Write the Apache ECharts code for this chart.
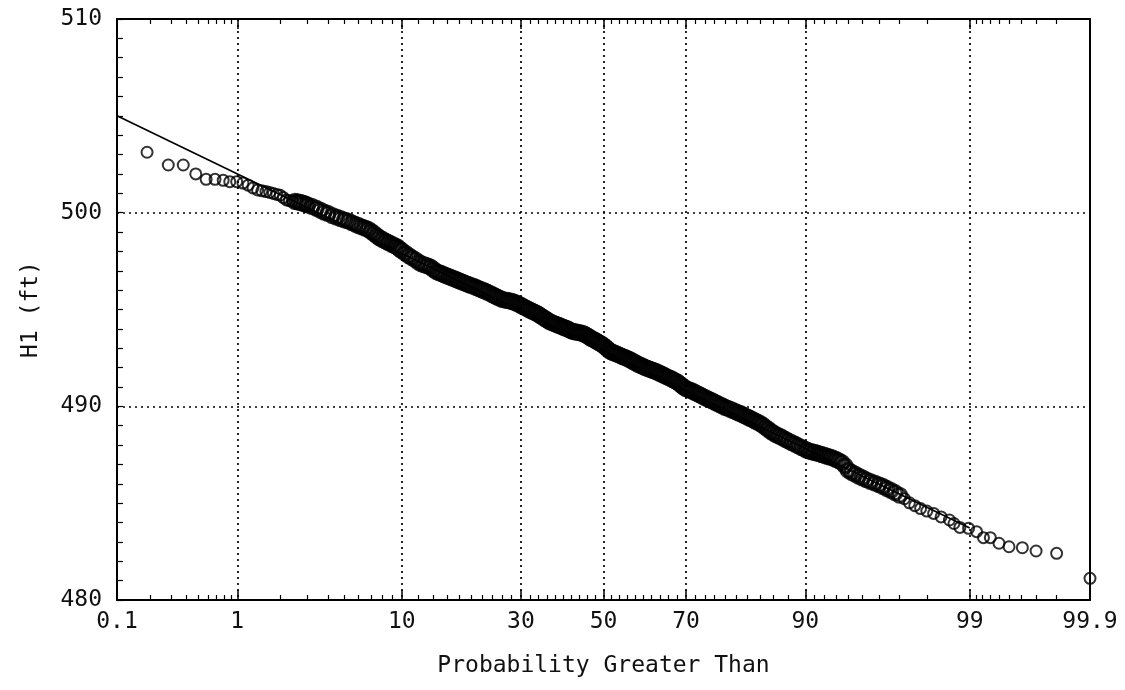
<!DOCTYPE html>
<html><head><meta charset="utf-8">
<script src="https://cdn.jsdelivr.net/npm/echarts@6/dist/echarts.min.js"></script>
<style>html,body{margin:0;padding:0;background:#fff}#c{width:1125px;height:690px}</style>
</head><body><div id="c"></div>
<script>
const probPct = [
  0.187,0.285,0.38,0.48,0.58,0.68,0.785,0.88,0.99,
  1.1,1.2,1.3,1.4,1.5,1.6,1.7,1.8,1.9,2.0,
  2.1,2.2,2.3,2.4,2.5,2.6,2.7,2.8,2.9,3.0,
  3.2,3.4,3.6,3.8,4.0,
  4.25,4.5,4.75,5.0,5.25,5.5,5.75,6.0,6.25,6.5,6.75,7.0,7.25,7.5,7.75,8.0,8.25,8.5,8.75,9.0,9.25,9.5,9.75,10.0,
  10.4,10.8,11.2,11.6,12.0,12.4,12.8,13.2,13.6,14.0,14.4,14.8,15.2,15.6,16.0,16.4,16.8,17.2,17.6,18.0,18.4,18.8,19.2,19.6,20.0,
  20.5,21,21.5,22,22.5,23,23.5,24,24.5,25,25.5,26,26.5,27,27.5,28,28.5,29,29.5,30,
  30.5,31,31.5,32,32.5,33,33.5,34,34.5,35,35.5,36,36.5,37,37.5,38,38.5,39,39.5,40,
  40.5,41,41.5,42,42.5,43,43.5,44,44.5,45,45.5,46,46.5,47,47.5,48,48.5,49,49.5,50,
  50.5,51,51.5,52,52.5,53,53.5,54,54.5,55,55.5,56,56.5,57,57.5,58,58.5,59,59.5,60,
  60.5,61,61.5,62,62.5,63,63.5,64,64.5,65,65.5,66,66.5,67,67.5,68,68.5,69,69.5,70,
  70.5,71,71.5,72,72.5,73,73.5,74,74.5,75,75.5,76,76.5,77,77.5,78,78.5,79,79.5,80,
  80.4,80.8,81.2,81.6,82.0,82.4,82.8,83.2,83.6,84.0,84.4,84.8,85.2,85.6,86.0,86.4,86.8,87.2,87.6,88.0,88.4,88.8,89.2,89.6,90.0,
  90.25,90.5,90.75,91,91.25,91.5,91.75,92,92.25,92.5,92.75,93,93.25,93.5,93.75,94,94.25,94.5,94.75,95,95.25,95.5,95.75,96,
  96.2,96.4,96.6,96.8,97.0,97.2,97.4,97.6,97.8,98.0,98.2,98.4,98.6,
  98.7,98.82,98.98,99.11,99.21,99.30,99.40,99.50,99.61,99.70,99.80,99.90
];
// H1 (ft) at each of those probabilities
const h1Ft = [
  503.12,502.46,502.46,502.00,501.72,501.72,501.67,501.60,501.60,
  501.53,501.42,501.28,501.17,501.13,501.09,501.04,500.99,500.94,500.90,
  500.78,500.66,500.62,500.60,500.58,500.56,500.53,500.49,500.45,500.40,
  500.32,500.23,500.13,500.03,499.96,
  499.85,499.77,499.69,499.62,499.57,499.48,499.40,499.33,499.26,499.20,499.14,499.03,498.92,498.80,498.70,498.62,498.55,498.48,498.42,498.35,498.29,498.23,498.13,498.04,
  497.91,497.78,497.67,497.57,497.45,497.36,497.30,497.25,497.19,497.07,496.96,496.90,496.85,496.79,496.74,496.68,496.63,496.58,496.53,496.48,496.43,496.38,496.33,496.28,496.24,
  496.19,496.13,496.07,496.01,495.96,495.90,495.84,495.77,495.70,495.64,495.58,495.52,495.49,495.47,495.45,495.42,495.38,495.33,495.28,495.21,
  495.15,495.09,495.03,494.97,494.92,494.86,494.81,494.75,494.67,494.60,494.53,494.46,494.39,494.34,494.29,494.25,494.21,494.17,494.12,494.08,
  494.04,494.00,493.94,493.89,493.86,493.84,493.82,493.80,493.78,493.74,493.69,493.63,493.56,493.50,493.45,493.39,493.33,493.27,493.21,493.14,
  493.06,492.97,492.88,492.81,492.77,492.73,492.69,492.65,492.60,492.55,492.52,492.47,492.42,492.37,492.31,492.26,492.19,492.14,492.10,492.05,
  492.00,491.96,491.92,491.88,491.84,491.80,491.75,491.70,491.65,491.60,491.54,491.49,491.44,491.38,491.32,491.26,491.18,491.08,490.99,490.91,
  490.87,490.82,490.77,490.71,490.65,490.59,490.52,490.46,490.40,490.34,490.28,490.21,490.15,490.08,490.02,489.95,489.90,489.84,489.78,489.72,
  489.66,489.62,489.56,489.50,489.44,489.38,489.32,489.25,489.18,489.12,489.03,488.92,488.82,488.71,488.62,488.53,488.46,488.38,488.29,488.21,488.13,488.05,487.96,487.87,487.78,
  487.73,487.68,487.65,487.62,487.58,487.55,487.51,487.47,487.42,487.38,487.33,487.26,487.19,487.10,486.93,486.70,486.59,486.50,486.40,486.31,486.21,486.12,486.04,485.95,
  485.87,485.76,485.66,485.54,485.41,485.23,485.02,484.87,484.72,484.59,484.47,484.29,484.13,
  483.95,483.75,483.70,483.53,483.22,483.22,482.93,482.75,482.70,482.53,482.41,481.12
];
// fitted normal line (endpoints)
const fitPct = [0.1, 99];
const fitFt = [505.0, 483.72];
// axis ticks
const majorTickPct = [0.1, 1, 10, 30, 50, 70, 90, 99, 99.9];
const majorTickLabels = ['0.1', '1', '10', '30', '50', '70', '90', '99', '99.9'];
const minorTickPct = [0.2,0.3,0.4,0.5,0.6,0.7,0.8,0.9, 2,3,4,5,6,7,8,9,
  12,14,16,18,20,22,24,26,28, 32,34,36,38,40,42,44,46,48,
  52,54,56,58,60,62,64,66,68, 72,74,76,78,80,82,84,86,88,
  91,92,93,94,95,96,97,98, 99.1,99.2,99.3,99.4,99.5,99.6,99.7,99.8];
const yMin = 480, yMax = 510, yStep = 10;
const xTitle = 'Probability Greater Than';
const yTitle = 'H1 (ft)';

// normal-probability scale transform (inverse standard normal CDF)
function probit(pct) {
  const p = pct / 100;
  const a = [-3.969683028665376e+01, 2.209460984245205e+02, -2.759285104469687e+02, 1.383577518672690e+02, -3.066479806614716e+01, 2.506628277459239e+00];
  const b = [-5.447609879822406e+01, 1.615858368580409e+02, -1.556989798598866e+02, 6.680131188771972e+01, -1.328068155288572e+01];
  const c = [-7.784894002430293e-03, -3.223964580411365e-01, -2.400758277161838e+00, -2.549732539343734e+00, 4.374664141464968e+00, 2.938163982698783e+00];
  const d = [7.784695709041462e-03, 3.224671290700398e-01, 2.445134137142996e+00, 3.754408661907416e+00];
  const pl = 0.02425, ph = 1 - pl;
  let q, r;
  if (p < pl) {
    q = Math.sqrt(-2 * Math.log(p));
    return (((((c[0]*q+c[1])*q+c[2])*q+c[3])*q+c[4])*q+c[5]) / ((((d[0]*q+d[1])*q+d[2])*q+d[3])*q+1);
  }
  if (p <= ph) {
    q = p - 0.5; r = q * q;
    return (((((a[0]*r+a[1])*r+a[2])*r+a[3])*r+a[4])*r+a[5])*q / (((((b[0]*r+b[1])*r+b[2])*r+b[3])*r+b[4])*r+1);
  }
  q = Math.sqrt(-2 * Math.log(1 - p));
  return -(((((c[0]*q+c[1])*q+c[2])*q+c[3])*q+c[4])*q+c[5]) / ((((d[0]*q+d[1])*q+d[2])*q+d[3])*q+1);
}

const majorZ = majorTickPct.map(probit);
const minorZ = minorTickPct.map(probit);
const xMin = majorZ[0], xMax = majorZ[majorZ.length - 1];
const FONT = 'DejaVu Sans Mono';
const ink = '#111';

function labelFor(v) {
  let best = 0;
  majorZ.forEach((z, i) => { if (Math.abs(z - v) < Math.abs(majorZ[best] - v)) best = i; });
  return majorTickLabels[best];
}

const frameLine = { show: true, onZero: false, lineStyle: { color: '#000', width: 2 } };
const noLine = { show: false, onZero: false };
const dotted = { show: true, lineStyle: { color: '#000', width: 1.7, type: [2, 4] } };

// where the observations crowd together the printed circles merge into a heavier band
function pointItem(p, i) {
  const dense = p >= 2.5 && p <= 97.0;
  return {
    value: [probit(p), h1Ft[i]],
    symbolSize: dense ? 14 : 11,
    itemStyle: { borderWidth: dense ? 3.2 : 2 }
  };
}

const chart = echarts.init(document.getElementById('c'), null, { renderer: 'canvas' });
chart.setOption({
  animation: false,
  backgroundColor: '#fff',
  grid: { left: 117, right: 35, top: 19, bottom: 90, containLabel: false },
  xAxis: [
    { type: 'value', position: 'bottom', min: xMin, max: xMax,
      axisLine: frameLine,
      axisTick: { show: true, inside: true, length: 10, customValues: majorZ, lineStyle: { color: '#000', width: 1.5 } },
      axisLabel: { show: true, customValues: majorZ, formatter: labelFor, margin: 11,
        fontFamily: FONT, fontSize: 23, color: ink },
      splitLine: dotted,
      name: xTitle, nameLocation: 'middle', nameGap: 55,
      nameTextStyle: { fontFamily: FONT, fontSize: 23, color: ink } },
    { type: 'value', position: 'bottom', min: xMin, max: xMax,
      axisLine: noLine,
      axisTick: { show: true, inside: true, length: 5, customValues: minorZ, lineStyle: { color: '#000', width: 1.2 } },
      axisLabel: { show: false }, splitLine: { show: false } },
    { type: 'value', position: 'top', min: xMin, max: xMax,
      axisLine: frameLine,
      axisTick: { show: true, inside: true, length: 10, customValues: majorZ, lineStyle: { color: '#000', width: 1.5 } },
      axisLabel: { show: false }, splitLine: { show: false } },
    { type: 'value', position: 'top', min: xMin, max: xMax,
      axisLine: noLine,
      axisTick: { show: true, inside: true, length: 5, customValues: minorZ, lineStyle: { color: '#000', width: 1.2 } },
      axisLabel: { show: false }, splitLine: { show: false } }
  ],
  yAxis: [
    { type: 'value', position: 'left', min: yMin, max: yMax, interval: yStep,
      axisLine: frameLine,
      axisTick: { show: true, inside: true, length: 6, lineStyle: { color: '#000', width: 1.2 } },
      minorTick: { show: true, splitNumber: 10, length: 6, lineStyle: { color: '#000', width: 1.2 } },
      axisLabel: { show: true, margin: 15, fontFamily: FONT, fontSize: 23, color: ink },
      splitLine: dotted,
      name: yTitle, nameLocation: 'middle', nameGap: 74, nameRotate: 90,
      nameTextStyle: { fontFamily: FONT, fontSize: 23, color: ink } },
    { type: 'value', position: 'right', min: yMin, max: yMax, interval: yStep,
      axisLine: frameLine, axisTick: { show: false }, axisLabel: { show: false }, splitLine: { show: false } }
  ],
  series: [
    { type: 'line', xAxisIndex: 0, yAxisIndex: 0, silent: true,
      data: fitPct.map((p, i) => [probit(p), fitFt[i]]),
      showSymbol: false, symbol: 'none',
      lineStyle: { color: '#000', width: 1.6 } },
    { type: 'scatter', xAxisIndex: 0, yAxisIndex: 0, silent: true,
      data: probPct.map(pointItem),
      symbol: 'circle', symbolSize: 11,
      itemStyle: { color: 'rgba(0,0,0,0)', borderColor: '#000', borderWidth: 2 } }
  ]
});
</script></body></html>
